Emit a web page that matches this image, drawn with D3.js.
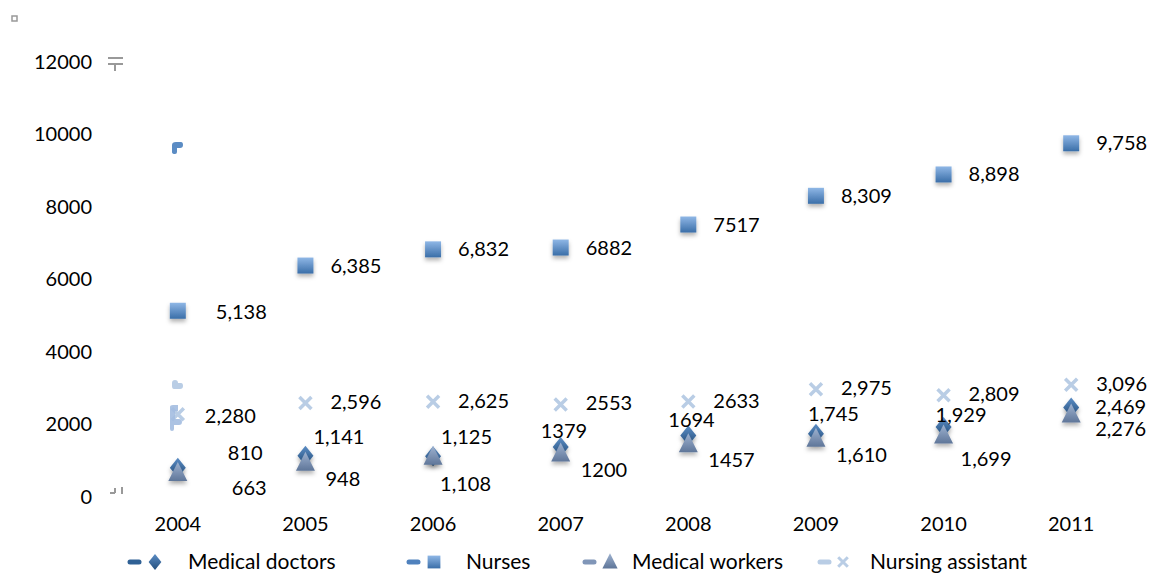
<!DOCTYPE html>
<html>
<head>
<meta charset="utf-8">
<script src="https://cdn.jsdelivr.net/npm/d3@7"></script>
<style>
  body { margin: 0; background: #fff; }
  text { font-family: Lato, "Open Sans", sans-serif; fill: #000; }
</style>
</head>
<body>
<div class="chart"></div>
<script>
// Chart data
var years = ["2004", "2005", "2006", "2007", "2008", "2009", "2010", "2011"];
var doctors = [810, 1141, 1125, 1379, 1694, 1745, 1929, 2469];
var nurses = [5138, 6385, 6832, 6882, 7517, 8309, 8898, 9758];
var workers = [663, 948, 1108, 1200, 1457, 1610, 1699, 2276];
var assistants = [2280, 2596, 2625, 2553, 2633, 2975, 2809, 3096];
var seriesNames = ["Medical doctors", "Nurses", "Medical workers", "Nursing assistant"];
var yTicks = [0, 2000, 4000, 6000, 8000, 10000, 12000];
// years whose labels have no thousands separator in the original
var plainYears = ["2007", "2008"];

var svgWidth = 1152;
var svgHeight = 576;
var margin = { top: 62, right: 17, bottom: 79, left: 114 };
var width = svgWidth - margin.left - margin.right;
var height = svgHeight - margin.top - margin.bottom;

var svg = d3.select(".chart").append("svg")
  .attr("width", svgWidth)
  .attr("height", svgHeight);

var defs = svg.append("defs");
function grad(id, top, bottom) {
  var g = defs.append("linearGradient").attr("id", id)
    .attr("x1", 0).attr("y1", 0).attr("x2", 0).attr("y2", 1);
  g.append("stop").attr("offset", "0%").attr("stop-color", top);
  g.append("stop").attr("offset", "100%").attr("stop-color", bottom);
}
grad("gDoc", "#5b8cc4", "#244f7d");
grad("gNur", "#8fb7e6", "#3a6ea8");
grad("gWrk", "#9fb3d1", "#5f7699");
var shadow = defs.append("filter").attr("id", "shd")
  .attr("x", "-50%").attr("y", "-50%").attr("width", "200%").attr("height", "200%");
shadow.append("feDropShadow").attr("dx", 0).attr("dy", 3).attr("stdDeviation", 2)
  .attr("flood-color", "#000").attr("flood-opacity", 0.3);

var chart = svg.append("g")
  .attr("transform", "translate(" + margin.left + "," + margin.top + ")");

var x = d3.scaleBand().domain(years).range([0, width]).padding(0);
var y = d3.scaleLinear().domain([0, 12000]).range([height, 0]);
function cx(yr) { return x(yr) + x.bandwidth() / 2; }

// axes
var yAxis = chart.append("g")
  .call(d3.axisLeft(y).tickValues(yTicks).tickSize(0).tickPadding(22).tickFormat(d3.format("d")));
yAxis.select(".domain").remove();
yAxis.selectAll("text").style("font-size", "20px").style("font-family", "Lato, sans-serif");

var xAxis = chart.append("g")
  .attr("transform", "translate(0," + height + ")")
  .call(d3.axisBottom(x).tickSize(0).tickPadding(20));
xAxis.select(".domain").remove();
xAxis.selectAll("text").style("font-size", "20px").style("font-family", "Lato, sans-serif");

// marker shapes (scaled by k)
function diamond(k) { return "M0," + (-10 * k) + "L" + (8 * k) + ",0L0," + (10 * k) + "L" + (-8 * k) + ",0Z"; }
function square(k) { var s = 8 * k; return "M" + -s + "," + -s + "h" + 2 * s + "v" + 2 * s + "h" + -2 * s + "Z"; }
function triangle(k) { return "M0," + (-11 * k) + "L" + (9.5 * k) + "," + (8 * k) + "L" + (-9.5 * k) + "," + (8 * k) + "Z"; }
function cross(k) { var s = 6 * k; return "M" + -s + "," + -s + "L" + s + "," + s + "M" + -s + "," + s + "L" + s + "," + -s; }

var markers = {
  "Medical doctors": { path: diamond, fill: "url(#gDoc)", solid: "#2f6195" },
  "Nurses": { path: square, fill: "url(#gNur)", solid: "#4f81bd" },
  "Medical workers": { path: triangle, fill: "url(#gWrk)", solid: "#8096b8" },
  "Nursing assistant": { path: cross, fill: "none", stroke: "#b9cde5", solid: "#b9cde5" }
};

var seriesValues = {
  "Medical doctors": doctors,
  "Nurses": nurses,
  "Medical workers": workers,
  "Nursing assistant": assistants
};

// label placement per series, with a few nudges
function labelOffset(name, i) {
  if (name === "Nurses") return i === 0 ? [38, 1] : [25, 0];
  if (name === "Nursing assistant") return i === 0 ? [27, 2] : [25, -1];
  if (name === "Medical doctors") {
    if (i === 0) return [50, -15];
    if (i === 7) return [24, 0];
    if (i === 3 || i === 4) return [-20, -16];
    if (i === 1 || i === 2) return [8, -19];
    if (i === 6) return [-8, -12];
    return [-8, -20];
  }
  // Medical workers
  if (i === 0) return [54, 15];
  if (i === 7) return [24, 15];
  if (i === 2) return [7, 27];
  if (i === 6) return [17, 24];
  return [20, 16];
}

// draw order: assistants, nurses, doctors, workers
var drawOrder = ["Nursing assistant", "Nurses", "Medical doctors", "Medical workers"];
drawOrder.forEach(function(name) {
  var m = markers[name];
  var vals = seriesValues[name];
  chart.append("g").selectAll("path")
    .data(vals)
    .enter().append("path")
    .attr("d", m.path(1))
    .attr("transform", function(d, i) {
      return "translate(" + cx(years[i]) + "," + y(d) + ")";
    })
    .attr("fill", m.fill)
    .attr("stroke", m.stroke || null)
    .attr("stroke-width", m.stroke ? 3.5 : null)
    .attr("filter", m.stroke ? null : "url(#shd)");
});

// data labels
var fmt = d3.format(",");
drawOrder.forEach(function(name) {
  var vals = seriesValues[name];
  chart.append("g").selectAll("text")
    .data(vals)
    .enter().append("text")
    .attr("x", function(d, i) { return cx(years[i]) + labelOffset(name, i)[0]; })
    .attr("y", function(d, i) { return y(d) + labelOffset(name, i)[1]; })
    .attr("dy", "0.35em")
    .style("font-size", "20px")
    .text(function(d, i) {
      return plainYears.indexOf(years[i]) >= 0 ? String(d) : fmt(d);
    });
});

// small leftover artefacts of the original
svg.append("rect").attr("x", 12).attr("y", 16).attr("width", 5).attr("height", 5)
  .attr("fill", "none").attr("stroke", "#999").attr("stroke-width", 1.5);
var art = svg.append("g").attr("stroke", "#999").attr("stroke-width", 2).attr("fill", "none");
art.append("path").attr("d", "M108,58 h15 M108,64 h15 M115,64 v7");
art.append("path").attr("d", "M110,493 h5 M115,493 v-5 M122,494 v-7");
svg.append("path").attr("d", "M172,145 q0,-3 4,-3 h5 q2,0 2,3 q0,3 -3,3 h-3 v4 q0,2 -2,2 q-3,0 -3,-2 z")
  .attr("fill", "#5b8cc4");
svg.append("path").attr("d", "M172,383 q0,-3 3,-3 q3,0 3,3 h3 q2,0 2,3 q0,3 -3,3 h-6 q-2,0 -2,-3 z")
  .attr("fill", "#b9cde5");
svg.append("path").attr("d", "M170,407 q0,-2 3,-2 h5 v6 h-3 v8 h4 q3,0 3,3 q0,3 -3,3 h-5 v4 q0,2 -2,2 q-2,0 -2,-2 z")
  .attr("fill", "#a3bde0").attr("opacity", 0.9);

// legend
var legendX = [128, 407, 583, 818];
var legend = svg.append("g");
seriesNames.forEach(function(name, i) {
  var m = markers[name];
  var g = legend.append("g").attr("transform", "translate(" + legendX[i] + ",562)");
  g.append("line").attr("x1", 2).attr("x2", 11).attr("y1", 0).attr("y2", 0)
    .attr("stroke", m.solid).attr("stroke-width", 5).attr("stroke-linecap", "round");
  g.append("path").attr("d", m.path(0.8))
    .attr("transform", "translate(" + (i === 3 ? 25 : 27) + ",0)")
    .attr("fill", m.fill)
    .attr("stroke", m.stroke || null)
    .attr("stroke-width", m.stroke ? 3 : null);
  g.append("text").attr("x", i === 0 ? 60 : (i === 1 ? 59 : (i === 2 ? 49 : 52)))
    .attr("y", 0).attr("dy", "0.35em").style("font-size", "21px").text(name);
});
</script>
</body>
</html>
